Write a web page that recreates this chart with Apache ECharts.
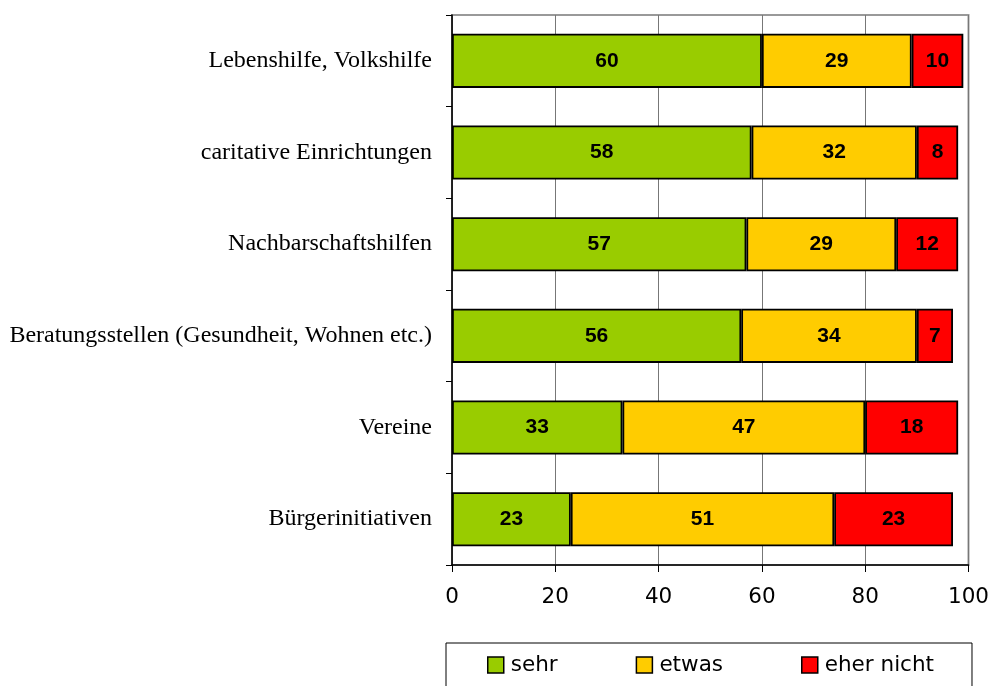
<!DOCTYPE html>
<html>
<head>
<meta charset="utf-8">
<script src="https://cdn.jsdelivr.net/npm/echarts@6/dist/echarts.min.js"></script>
<style>
  html, body { margin: 0; padding: 0; background: #fff; }
  #chart { width: 992px; height: 686px; }
</style>
</head>
<body>
<div id="chart"></div>
<script>
const categories = [
  'Lebenshilfe, Volkshilfe',
  'caritative Einrichtungen',
  'Nachbarschaftshilfen',
  'Beratungsstellen (Gesundheit, Wohnen etc.)',
  'Vereine',
  'Bürgerinitiativen'
]
const sehr = [60, 58, 57, 56, 33, 23]
const etwas = [29, 32, 29, 34, 47, 51]
const eherNicht = [10, 8, 12, 7, 18, 23]
const xTicks = [0, 20, 40, 60, 80, 100]

// Balken-Stil für alle Serien
const makeSeries = (name, data, color) => ({
  name: name,
  type: 'bar',
  stack: 'total',
  barWidth: '59%',
  data: data,
  itemStyle: { color: color, borderColor: '#000', borderWidth: 1.8 },
  label: {
    show: true,
    position: 'inside',
    color: '#000',
    fontFamily: 'Liberation Sans, Arial, sans-serif',
    fontWeight: 'bold',
    fontSize: 21
  }
})

const option = {
  animation: false,
  backgroundColor: '#fff',
  grid: {
    left: 452,
    right: 20,
    top: 15,
    bottom: 121,
    show: true,
    borderColor: '#999',
    borderWidth: 2
  },
  xAxis: {
    type: 'value',
    min: xTicks[0],
    max: xTicks[xTicks.length - 1],
    interval: 20,
    axisLine: { show: true, lineStyle: { color: '#000', width: 1.5 } },
    axisTick: { show: true, length: 7, lineStyle: { color: '#000' } },
    axisLabel: {
      color: '#000',
      fontFamily: 'DejaVu Sans, sans-serif',
      fontSize: 21.5,
      margin: 21
    },
    splitLine: { show: true, lineStyle: { color: '#777', width: 1 } }
  },
  yAxis: {
    type: 'category',
    data: categories,
    inverse: true,
    axisLine: { show: true, lineStyle: { color: '#000', width: 1.5 } },
    axisTick: { show: true, length: 6, lineStyle: { color: '#000' } },
    axisLabel: {
      color: '#000',
      fontFamily: 'Liberation Serif, Times New Roman, serif',
      fontSize: 24,
      margin: 20
    }
  },
  legend: {
    left: 446,
    top: 643,
    orient: 'horizontal',
    itemWidth: 16,
    itemHeight: 16,
    itemGap: 78,
    padding: [10, 38, 16, 41],
    borderColor: '#000',
    borderWidth: 1,
    icon: 'rect',
    itemStyle: { borderColor: '#000', borderWidth: 1.5 },
    textStyle: {
      color: '#000',
      fontFamily: 'DejaVu Sans, sans-serif',
      fontSize: 21.5,
      lineHeight: 24,
      padding: [0, 0, 0, 2]
    },
    data: ['sehr', 'etwas', 'eher nicht']
  },
  series: [
    makeSeries('sehr', sehr, '#99CC00'),
    makeSeries('etwas', etwas, '#FFCC00'),
    makeSeries('eher nicht', eherNicht, '#FF0000')
  ]
}

const chart = echarts.init(document.getElementById('chart'))
chart.setOption(option)
window.onresize = function () {
  chart.resize()
}
</script>
</body>
</html>
